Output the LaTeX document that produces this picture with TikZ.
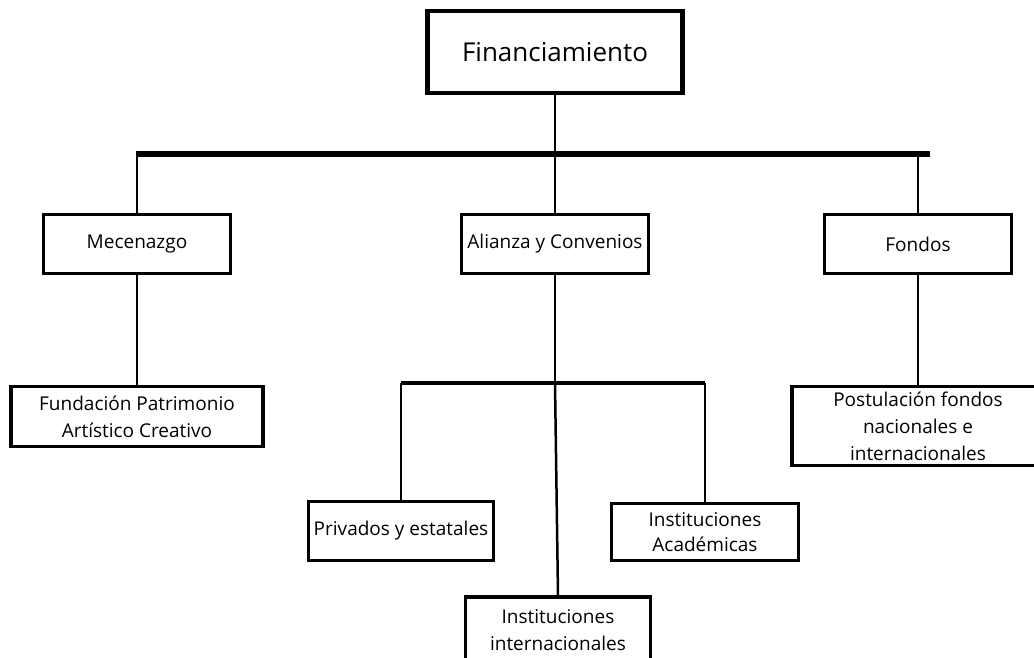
\documentclass[tikz,border=0pt]{standalone}
\usepackage{fontspec}
\setmainfont{Open Sans}
\begin{document}
\begin{tikzpicture}[x=1pt,y=-1pt,
  box/.style={draw=black, line width=3.2pt, fill=white, inner sep=0pt, align=center,
    font=\fontsize{19}{27}\selectfont},
  topbox/.style={box, line width=4.5pt, minimum width=255pt, minimum height=82pt,
    font=\fontsize{26}{30}\selectfont},
  link/.style={line width=2.5pt}]
\useasboundingbox (0,0) rectangle (1034,657);
\fill[white] (0,0) rectangle (1034,657);
\clip (0,0) rectangle (1034,657);

% nodes
\node[topbox] (fin) at (555,52) {Financiamiento};
\node[box, minimum width=187pt, minimum height=59pt] (mec) at (137,244) {Mecenazgo};
\node[box, minimum width=187pt, minimum height=59pt] (ali) at (555,244) {Alianza y Convenios};
\node[box, minimum width=187pt, minimum height=59pt] (fon) at (918,244) {Fondos};
\node[box, minimum width=252pt, minimum height=60pt] (fun) at (137,416.5) {Fundación Patrimonio\\Artístico Creativo};
\node[box, minimum width=252pt, minimum height=79pt] (post) at (918,426) {Postulación fondos\\nacionales e\\internacionales};
\node[box, minimum width=185pt, minimum height=59pt] (priv) at (401,531) {Privados y estatales};
\node[box, minimum width=187pt, minimum height=57pt, font=\fontsize{19}{25}\selectfont] (acad) at (705,532) {Instituciones\\Académicas};
\node[box, minimum width=185pt, minimum height=66pt] (intl) at (558,630) {Instituciones\\internacionales};

% coordinates
\coordinate (barL) at (136,154);
\coordinate (barR) at (930,154);
\coordinate (barM) at (fin.south |- barL);
\coordinate (jm) at (ali.south |- 0,383);
\coordinate (jl) at (priv.north |- jm);
\coordinate (jr) at (acad.north |- jm);

% connectors
\draw[link] (fin.south) -- (barM);
\draw[line width=6.5pt] (barL) -- (barR);
\draw[link] (mec.north |- barL) -- (mec.north);
\draw[link] (barM) -- (ali.north);
\draw[link] (fon.north |- barL) -- (fon.north);
\draw[link] (mec.south) -- (fun.north);
\draw[link] (fon.south) -- (post.north);
\draw[link] (ali.south) -- (jm);
\draw[line width=3.2pt] (jl) -- (jr);
\draw[link] (jl) -- (priv.north);
\draw[link] (jr) -- (acad.north);
\draw[link] (jm) -- (intl.north);
\end{tikzpicture}
\end{document}
